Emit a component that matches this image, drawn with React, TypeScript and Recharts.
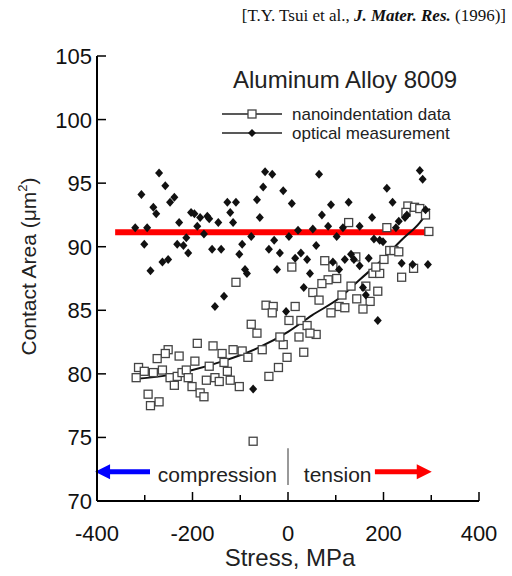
import React from "react";
import {
  ScatterChart,
  Scatter,
  XAxis,
  YAxis,
  ReferenceLine,
  ReferenceDot,
} from "recharts";

// nanoindentation data (open squares)
const nanoStress = [
  -109, 8, 251, 265, 276, 288, 247, 127, 207, 295, 213, 222, 232, 201, 142, 77,
  94, 178, 192, 184, 263, 102, 84, 71, 132, 238, 163, 52, 113, 188, 65, 144,
  172, 15, 107, 119, 157, 90, 2, 27, 40, 59, 46, 23, -10, -2, 33, -20, -46, -31,
  -33, -77, -65, -17, -54, -115, -96, -84, -157, -138, -134, -127, -40, -165,
  -190, -195, -228, -251, -257, -274, -313, -301, -282, -263, -318, -247, -238,
  -232, -222, -213, -209, -201, -171, -153, -144, -121, -102, -184, -176, -293,
  -288, -270, -73,
];
const nanoArea = [
  87.2, 88.4, 93.2, 93.1, 93.0, 92.5, 92.7, 91.9, 91.5, 91.2, 89.7, 89.7, 89.6,
  89.0, 89.2, 88.9, 88.4, 87.9, 87.9, 88.4, 88.3, 87.5, 87.4, 87.1, 86.9, 87.6,
  86.9, 86.4, 86.2, 86.5, 85.8, 85.9, 85.7, 85.3, 85.3, 85.2, 85.1, 84.8, 84.2,
  84.2, 83.8, 83.1, 83.2, 82.9, 82.3, 81.3, 81.7, 80.5, 85.4, 85.3, 84.8, 83.9,
  83.2, 82.9, 81.9, 81.9, 81.8, 81.3, 82.2, 81.6, 80.9, 80.2, 79.8, 80.6, 82.4,
  81.0, 81.4, 81.9, 81.6, 81.2, 80.5, 80.2, 80.1, 80.3, 79.7, 79.7, 79.1, 79.8,
  80.1, 80.3, 79.7, 79.0, 79.5, 79.7, 79.4, 79.5, 79.0, 78.5, 78.2, 78.4, 77.5,
  77.8, 74.7,
];

// optical measurement (filled diamonds)
const opticalStress = [
  -270, -307, -257, -282, -276, -238, -247, -320, -295, -301, -288, -263, -251,
  -228, -232, -219, -213, -209, -203, -196, -190, -184, -176, -169, -165, -159,
  -146, -140, -127, -121, -109, -115, -96, -102, -90, -86, -134, -77, -65, -59,
  -52, -48, -33, -40, -29, -17, -23, -10, 2, 8, 15, 21, 65, 90, 71, 127, 207, 219,
  276, 282, 176, 232, 245, 249, 288, 52, 84, 115, 150, 226, 102, 180, 192, 199,
  59, 27, 40, 132, 119, 138, 94, 169, 150, 238, 261, 293, 46, 107, 33, 157, 163,
  -4, 188, -153, -73,
];
const opticalArea = [
  95.8, 94.1, 94.8, 93.1, 92.6, 93.9, 93.5, 91.5, 91.5, 90.2, 88.1, 88.8, 89.0,
  91.9, 90.2, 90.1, 90.7, 89.5, 92.7, 92.6, 91.6, 92.3, 91.0, 92.4, 92.2, 89.8,
  91.9, 89.8, 93.5, 92.7, 93.5, 91.9, 90.2, 89.4, 88.2, 87.9, 86.1, 90.8, 93.7,
  92.3, 94.7, 95.9, 95.7, 89.8, 90.5, 89.5, 88.2, 94.4, 90.8, 93.4, 89.1, 91.3,
  95.7, 93.3, 92.5, 93.5, 94.6, 93.5, 96.0, 95.3, 92.3, 92.0, 92.3, 92.5, 92.9,
  91.4, 91.6, 91.5, 91.6, 91.5, 90.8, 90.6, 90.5, 90.4, 90.1, 89.5, 89.0, 89.4,
  89.0, 89.0, 88.8, 89.1, 88.5, 88.7, 88.6, 88.6, 87.9, 88.2, 86.8, 86.8, 86.2,
  84.9, 84.2, 85.3, 78.8,
];

// fitted curve through the nanoindentation data
const fitStress = [-324, -250, -200, -136, -65, 0, 50, 109, 150, 192, 240, 276, 297];
const fitArea = [79.6, 79.9, 80.3, 81.0, 82.0, 83.3, 84.6, 86.0, 87.4, 88.8, 90.6, 91.9, 93.0];

// red average line, arrows, annotations
const avgArea = 91.14;
const avgStart = -362;
const avgEnd = 303;
const arrowArea = 72.3;
const compressionArrow = [-289, -404];
const tensionArrow = [182, 301];
const dividerArea = [71.25, 74.15];
const compressionLabel = { x: -148, y: 71.5, text: "compression" };
const tensionLabel = { x: 104, y: 71.5, text: "tension" };

const xTicks = [-400, -300, -200, -100, 0, 100, 200, 300, 400];
const yTicks = [70, 75, 80, 85, 90, 95, 100, 105];

const nanoData = nanoStress.map((x, i) => ({ x, y: nanoArea[i] }));
const opticalData = opticalStress.map((x, i) => ({ x, y: opticalArea[i] }));
const fitData = fitStress.map((x, i) => ({ x, y: fitArea[i] }));

const FONT = "'Liberation Sans', Arial, sans-serif";

const Square = (p: any) => (
  <rect x={p.cx - 4} y={p.cy - 4} width={8} height={8} fill="#fff" stroke="#444" strokeWidth={1.3} />
);

const Diamond = (p: any) => (
  <polygon
    points={`${p.cx},${p.cy - 4.5} ${p.cx + 4},${p.cy} ${p.cx},${p.cy + 4.5} ${p.cx - 4},${p.cy}`}
    fill="#111"
  />
);

const arrowShape = (color: string) => (p: any) => {
  const { x1, y1, x2, y2 } = p;
  const dir = x2 > x1 ? 1 : -1;
  return (
    <g>
      <line x1={x1} y1={y1} x2={x2 - dir * 12} y2={y2} stroke={color} strokeWidth={5} />
      <polygon points={`${x2},${y2} ${x2 - dir * 15},${y2 - 7.5} ${x2 - dir * 15},${y2 + 7.5}`} fill={color} />
    </g>
  );
};

const BottomTick = (p: any) => {
  const v = p.payload.value;
  const major = v % 200 === 0;
  return (
    <g>
      <line x1={p.x} y1={p.y} x2={p.x} y2={p.y - (major ? 9 : 6)} stroke="#000" strokeWidth={1.5} />
      {major && (
        <text x={p.x} y={p.y + 40} textAnchor="middle" fontSize={22} fontFamily={FONT} fill="#111">
          {v}
        </text>
      )}
    </g>
  );
};

const TopTick = (p: any) => {
  const major = p.payload.value % 200 === 0;
  return <line x1={p.x} y1={p.y} x2={p.x} y2={p.y + (major ? 9 : 6)} stroke="#000" strokeWidth={1.5} />;
};

const LeftTick = (p: any) => (
  <g>
    <line x1={p.x} y1={p.y} x2={p.x + 9} y2={p.y} stroke="#000" strokeWidth={1.5} />
    <text x={p.x - 5} y={p.y + 8} textAnchor="end" fontSize={22} fontFamily={FONT} fill="#111">
      {p.payload.value}
    </text>
  </g>
);

const RightTick = (p: any) => (
  <line x1={p.x} y1={p.y} x2={p.x - 9} y2={p.y} stroke="#000" strokeWidth={1.5} />
);

const textShape = (text: string) => (p: any) => (
  <text x={p.cx} y={p.cy} textAnchor="middle" fontSize={21} fontFamily={FONT} fill="#222">
    {text}
  </text>
);

const YTitle = (p: any) => {
  const vb = p.viewBox;
  const cx = 36;
  const cy = vb.y + vb.height / 2 - 12;
  return (
    <text
      x={cx}
      y={cy}
      transform={`rotate(-90, ${cx}, ${cy})`}
      textAnchor="middle"
      fontSize={21}
      fontFamily={FONT}
      fill="#222"
    >
      Contact Area (μm
      <tspan fontSize={13} dy={-9}>2</tspan>
      <tspan dy={9}>)</tspan>
    </text>
  );
};

const XTitle = (p: any) => {
  const vb = p.viewBox;
  return (
    <text x={vb.x + vb.width / 2 + 2} y={566} textAnchor="middle" fontSize={24} fontFamily={FONT} fill="#222">
      Stress, MPa
    </text>
  );
};

export default function App() {
  return (
    <div style={{ position: "absolute", left: 0, top: 0, width: 512, height: 576, background: "#fff" }}>
      <ScatterChart width={512} height={576} margin={{ top: 56, right: 33, bottom: 0, left: 0 }}>
        <XAxis
          type="number"
          dataKey="x"
          domain={[-400, 400]}
          ticks={xTicks}
          interval={0}
          allowDataOverflow
          height={75}
          tickSize={0}
          tickMargin={0}
          tickLine={false}
          axisLine={{ stroke: "#000", strokeWidth: 2 }}
          tick={BottomTick}
          label={{ content: XTitle }}
        />
        <XAxis
          xAxisId="top"
          orientation="top"
          type="number"
          domain={[-400, 400]}
          ticks={xTicks}
          interval={0}
          height={0}
          tickSize={0}
          tickMargin={0}
          tickLine={false}
          axisLine={{ stroke: "#000", strokeWidth: 2 }}
          tick={TopTick}
        />
        <YAxis
          type="number"
          dataKey="y"
          domain={[70, 105]}
          ticks={yTicks}
          interval={0}
          allowDataOverflow
          width={97}
          tickSize={0}
          tickMargin={0}
          tickLine={false}
          axisLine={{ stroke: "#000", strokeWidth: 2 }}
          tick={LeftTick}
          label={{ content: YTitle }}
        />
        <YAxis
          yAxisId="right"
          orientation="right"
          type="number"
          domain={[70, 105]}
          ticks={yTicks}
          interval={0}
          width={0}
          tickSize={0}
          tickMargin={0}
          tickLine={false}
          axisLine={{ stroke: "#000", strokeWidth: 2 }}
          tick={RightTick}
        />
        <Scatter
          name="fit"
          data={fitData}
          shape={() => <g />}
          line={{ stroke: "#111", strokeWidth: 2 }}
          lineJointType="monotoneX"
          isAnimationActive={false}
        />
        <Scatter name="nanoindentation data" data={nanoData} shape={Square} isAnimationActive={false} />
        <Scatter name="optical measurement" data={opticalData} shape={Diamond} isAnimationActive={false} />
        <ReferenceLine
          segment={[
            { x: avgStart, y: avgArea },
            { x: avgEnd, y: avgArea },
          ]}
          stroke="#ff0000"
          strokeWidth={6}
          ifOverflow="visible"
        />
        <ReferenceLine
          segment={[
            { x: 0, y: dividerArea[0] },
            { x: 0, y: dividerArea[1] },
          ]}
          stroke="#777"
          strokeWidth={1.5}
        />
        <ReferenceLine
          segment={[
            { x: compressionArrow[0], y: arrowArea },
            { x: compressionArrow[1], y: arrowArea },
          ]}
          ifOverflow="visible"
          shape={arrowShape("#0000ff")}
        />
        <ReferenceLine
          segment={[
            { x: tensionArrow[0], y: arrowArea },
            { x: tensionArrow[1], y: arrowArea },
          ]}
          ifOverflow="visible"
          shape={arrowShape("#ff0000")}
        />
        <ReferenceDot x={compressionLabel.x} y={compressionLabel.y} r={0} shape={textShape(compressionLabel.text)} />
        <ReferenceDot x={tensionLabel.x} y={tensionLabel.y} r={0} shape={textShape(tensionLabel.text)} />
      </ScatterChart>

      <div
        style={{
          position: "absolute",
          right: 6,
          top: 6,
          fontFamily: "'Liberation Serif', 'Times New Roman', serif",
          fontSize: 17,
          color: "#111",
          whiteSpace: "nowrap",
        }}
      >
        [T.Y. Tsui et al., <b><i>J. Mater. Res.</i></b> (1996)]
      </div>
      <div
        style={{
          position: "absolute",
          left: 233,
          top: 66,
          fontFamily: FONT,
          fontSize: 24,
          color: "#222",
          whiteSpace: "nowrap",
        }}
      >
        Aluminum Alloy 8009
      </div>
      <svg style={{ position: "absolute", left: 218, top: 104 }} width={250} height={40}>
        <line x1={4} y1={10} x2={64} y2={10} stroke="#222" strokeWidth={1.5} />
        <rect x={30} y={6} width={8} height={8} fill="#fff" stroke="#444" strokeWidth={1.3} />
        <text x={74} y={16} fontSize={17} fontFamily={FONT} fill="#222">
          nanoindentation data
        </text>
        <line x1={4} y1={29} x2={64} y2={29} stroke="#222" strokeWidth={1.5} />
        <polygon points="34,25 38,29 34,33 30,29" fill="#111" />
        <text x={74} y={35} fontSize={17} fontFamily={FONT} fill="#222">
          optical measurement
        </text>
      </svg>
    </div>
  );
}
